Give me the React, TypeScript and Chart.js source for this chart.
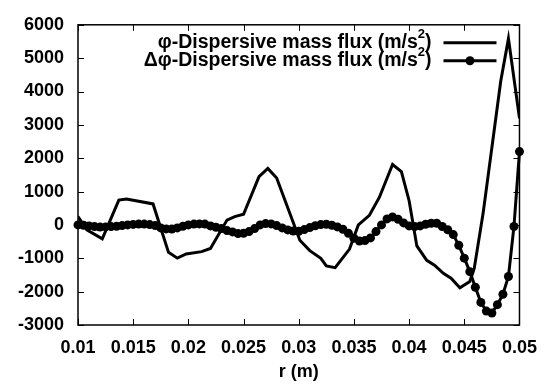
import React, { useEffect, useRef } from 'react';
import { Chart, registerables } from 'chart.js';

Chart.register(...registerables);

// ---- data ----
const PHI_R = [0.0100, 0.0108, 0.0122, 0.0137, 0.0144, 0.0168, 0.0182, 0.0190, 0.0198, 0.0212,
  0.0220, 0.0235, 0.0242, 0.0250, 0.0264, 0.0272, 0.0280, 0.0301, 0.0310, 0.0320,
  0.0325, 0.0333, 0.0346, 0.0354, 0.0364, 0.0373, 0.0385, 0.0393, 0.0400, 0.0407,
  0.0416, 0.0423, 0.0431, 0.0438, 0.0446, 0.0455, 0.0459, 0.0467, 0.0476, 0.0483,
  0.0490, 0.0500];
const PHI_V = [250, -145, -415, 746, 775, 630, -822, -996, -870, -800,
  -705, 145, 250, 320, 1450, 1695, 1405, -460, -770, -1000,
  -1230, -1280, -725, 0, 290, 824, 1810, 1597, 726, -628,
  -1063, -1208, -1452, -1597, -1887, -1693, -1306, 340, 2567, 4309,
  5586, 3194];

const DPHI_R = [0.0100, 0.0105, 0.0110, 0.0115, 0.0120, 0.0125, 0.0130, 0.0135, 0.0140, 0.0145,
  0.0150, 0.0155, 0.0160, 0.0165, 0.0170, 0.0175, 0.0180, 0.0185, 0.0190, 0.0195,
  0.0200, 0.0205, 0.0210, 0.0215, 0.0220, 0.0225, 0.0230, 0.0235, 0.0240, 0.0245,
  0.0250, 0.0255, 0.0260, 0.0265, 0.0270, 0.0275, 0.0280, 0.0285, 0.0290, 0.0295,
  0.0300, 0.0305, 0.0310, 0.0315, 0.0320, 0.0325, 0.0330, 0.0335, 0.0340, 0.0345,
  0.0350, 0.0355, 0.0360, 0.0365, 0.0370, 0.0375, 0.0380, 0.0385, 0.0390, 0.0395,
  0.0400, 0.0405, 0.0410, 0.0415, 0.0420, 0.0425, 0.0430, 0.0435, 0.0440, 0.0445,
  0.0450, 0.0455, 0.0460, 0.0465, 0.0470, 0.0475, 0.0480, 0.0485, 0.0490, 0.0495,
  0.0500];
const DPHI_V = [0, -10, -30, -50, -65, -60, -50, -40, -20, 0,
  15, 25, 25, 10, -20, -90, -120, -125, -90, -40,
  0, 25, 30, 25, -30, -70, -110, -170, -210, -260,
  -250, -200, -110, 0, 40, 30, -20, -90, -150, -185,
  -190, -140, -80, -25, 10, 20, -10, -60, -130, -250,
  -400, -480, -470, -390, -200, 0, 180, 240, 170, 60,
  -30, -50, -30, 20, 50, 50, -46, -145, -290, -610,
  -996, -1400, -1867, -2323, -2584, -2642, -2390, -2079, -1547, -46,
  2198];

const XTICKS = [0.01, 0.015, 0.02, 0.025, 0.03, 0.035, 0.04, 0.045, 0.05];
const XTICK_LABELS = ['0.01', '0.015', '0.02', '0.025', '0.03', '0.035', '0.04', '0.045', '0.05'];
const YTICKS = [-3000, -2000, -1000, 0, 1000, 2000, 3000, 4000, 5000, 6000];
const YTICK_LABELS = ['-3000', '-2000', '-1000', '0', '1000', '2000', '3000', '4000', '5000', '6000'];

const LEGEND = [
  { main: '\u03c6-Dispersive mass flux (m/s', sup: '2', tail: ')' },
  { main: '\u0394\u03c6-Dispersive mass flux (m/s', sup: '2', tail: ')' },
];
const X_TITLE = 'r (m)';

const FONT_FAMILY = '"Liberation Sans", Arial, Helvetica, sans-serif';

const framePlugin = {
  id: 'frameTicks',
  beforeDatasetsDraw(chart: any) {
    const { ctx, chartArea } = chart;
    const { left, right, top, bottom } = chartArea;
    const x = chart.scales.x;
    const y = chart.scales.y;
    ctx.save();
    ctx.strokeStyle = '#000';
    ctx.lineWidth = 1.5;
    ctx.strokeRect(left, top, right - left, bottom - top);
    ctx.beginPath();
    const L = 6;
    x.ticks.forEach((t: any) => {
      const px = Math.round(x.getPixelForValue(t.value)) + 0.5;
      ctx.moveTo(px, bottom); ctx.lineTo(px, bottom - L);
      ctx.moveTo(px, top); ctx.lineTo(px, top + L);
    });
    y.ticks.forEach((t: any) => {
      const py = Math.round(y.getPixelForValue(t.value)) + 0.5;
      ctx.moveTo(left, py); ctx.lineTo(left + L, py);
      ctx.moveTo(right, py); ctx.lineTo(right - L, py);
    });
    ctx.lineWidth = 1;
    ctx.stroke();
    ctx.restore();
  },
};

const legendPlugin = {
  id: 'customLegend',
  afterDraw(chart: any) {
    const { ctx, chartArea } = chart;
    const textRight = chartArea.right - 88;
    const lineStart = chartArea.right - 76;
    const lineEnd = chartArea.right - 23;
    ctx.save();
    LEGEND.forEach((row, i) => {
      const yc = chartArea.top + 18 + i * 18;
      const mainFont = `bold 19.5px ${FONT_FAMILY}`;
      const supFont = `bold 13px ${FONT_FAMILY}`;
      ctx.fillStyle = '#000';
      ctx.textBaseline = 'middle';
      ctx.textAlign = 'left';
      ctx.font = mainFont;
      const wMain = ctx.measureText(row.main).width;
      const wTail = ctx.measureText(row.tail).width;
      ctx.font = supFont;
      const wSup = ctx.measureText(row.sup).width;
      let xPos = textRight - (wMain + wSup + wTail);
      ctx.font = mainFont;
      ctx.fillText(row.main, xPos, yc);
      xPos += wMain;
      ctx.font = supFont;
      ctx.fillText(row.sup, xPos, yc - 8);
      xPos += wSup;
      ctx.font = mainFont;
      ctx.fillText(row.tail, xPos, yc);
      // sample line
      ctx.strokeStyle = '#000';
      ctx.lineWidth = 3;
      ctx.beginPath();
      ctx.moveTo(lineStart, yc);
      ctx.lineTo(lineEnd, yc);
      ctx.stroke();
      if (i === 1) {
        ctx.beginPath();
        ctx.arc((lineStart + lineEnd) / 2, yc, 4.5, 0, Math.PI * 2);
        ctx.fill();
      }
    });
    ctx.restore();
  },
};

export default function App() {
  const ref = useRef<HTMLCanvasElement>(null);

  useEffect(() => {
    if (!ref.current) return;
    const tickFont = { family: FONT_FAMILY, size: 18, weight: 'bold' as const };
    const chart = new Chart(ref.current, {
      type: 'line',
      data: {
        datasets: [
          {
            label: LEGEND[0].main,
            data: PHI_R.map((r, i) => ({ x: r, y: PHI_V[i] })),
            borderColor: '#000',
            backgroundColor: '#000',
            borderWidth: 3,
            pointRadius: 0,
            tension: 0,
            fill: false,
          },
          {
            label: LEGEND[1].main,
            data: DPHI_R.map((r, i) => ({ x: r, y: DPHI_V[i] })),
            borderColor: '#000',
            backgroundColor: '#000',
            borderWidth: 3,
            pointRadius: 4.5,
            pointBorderWidth: 0,
            pointBackgroundColor: '#000',
            tension: 0,
            fill: false,
            clip: 10,
          },
        ],
      },
      options: {
        animation: false,
        responsive: false,
        devicePixelRatio: 1,
        layout: { padding: { left: 0, right: 29, top: 15, bottom: 0 } },
        plugins: {
          legend: { display: false },
          tooltip: { enabled: false },
        },
        scales: {
          x: {
            type: 'linear',
            min: 0.01,
            max: 0.05,
            grid: { display: false, drawTicks: false },
            border: { display: false },
            afterBuildTicks: (s: any) => { s.ticks = XTICKS.map((v) => ({ value: v })); },
            afterFit: (s: any) => { s.height = 64; },
            ticks: {
              color: '#000',
              font: tickFont,
              padding: 12,
              maxRotation: 0,
              autoSkip: false,
              callback: (_v: any, i: number) => XTICK_LABELS[i],
            },
            title: {
              display: true,
              text: X_TITLE,
              color: '#000',
              font: tickFont,
              padding: { top: 0, bottom: 6 },
            },
          },
          y: {
            type: 'linear',
            min: -3000,
            max: 6000,
            grid: { display: false, drawTicks: false },
            border: { display: false },
            afterBuildTicks: (s: any) => { s.ticks = YTICKS.map((v) => ({ value: v })); },
            afterFit: (s: any) => { s.width = 78; },
            ticks: {
              color: '#000',
              font: tickFont,
              padding: 14,
              autoSkip: false,
              callback: (_v: any, i: number) => YTICK_LABELS[i],
            },
          },
        },
      },
      plugins: [framePlugin, legendPlugin],
    });
    return () => { chart.destroy(); };
  }, []);

  return (
    <div style={{ position: 'absolute', left: 0, top: 0, width: 549, height: 389, background: '#fff' }}>
      <canvas ref={ref} width={549} height={389} style={{ display: 'block', width: 549, height: 389 }} />
    </div>
  );
}
